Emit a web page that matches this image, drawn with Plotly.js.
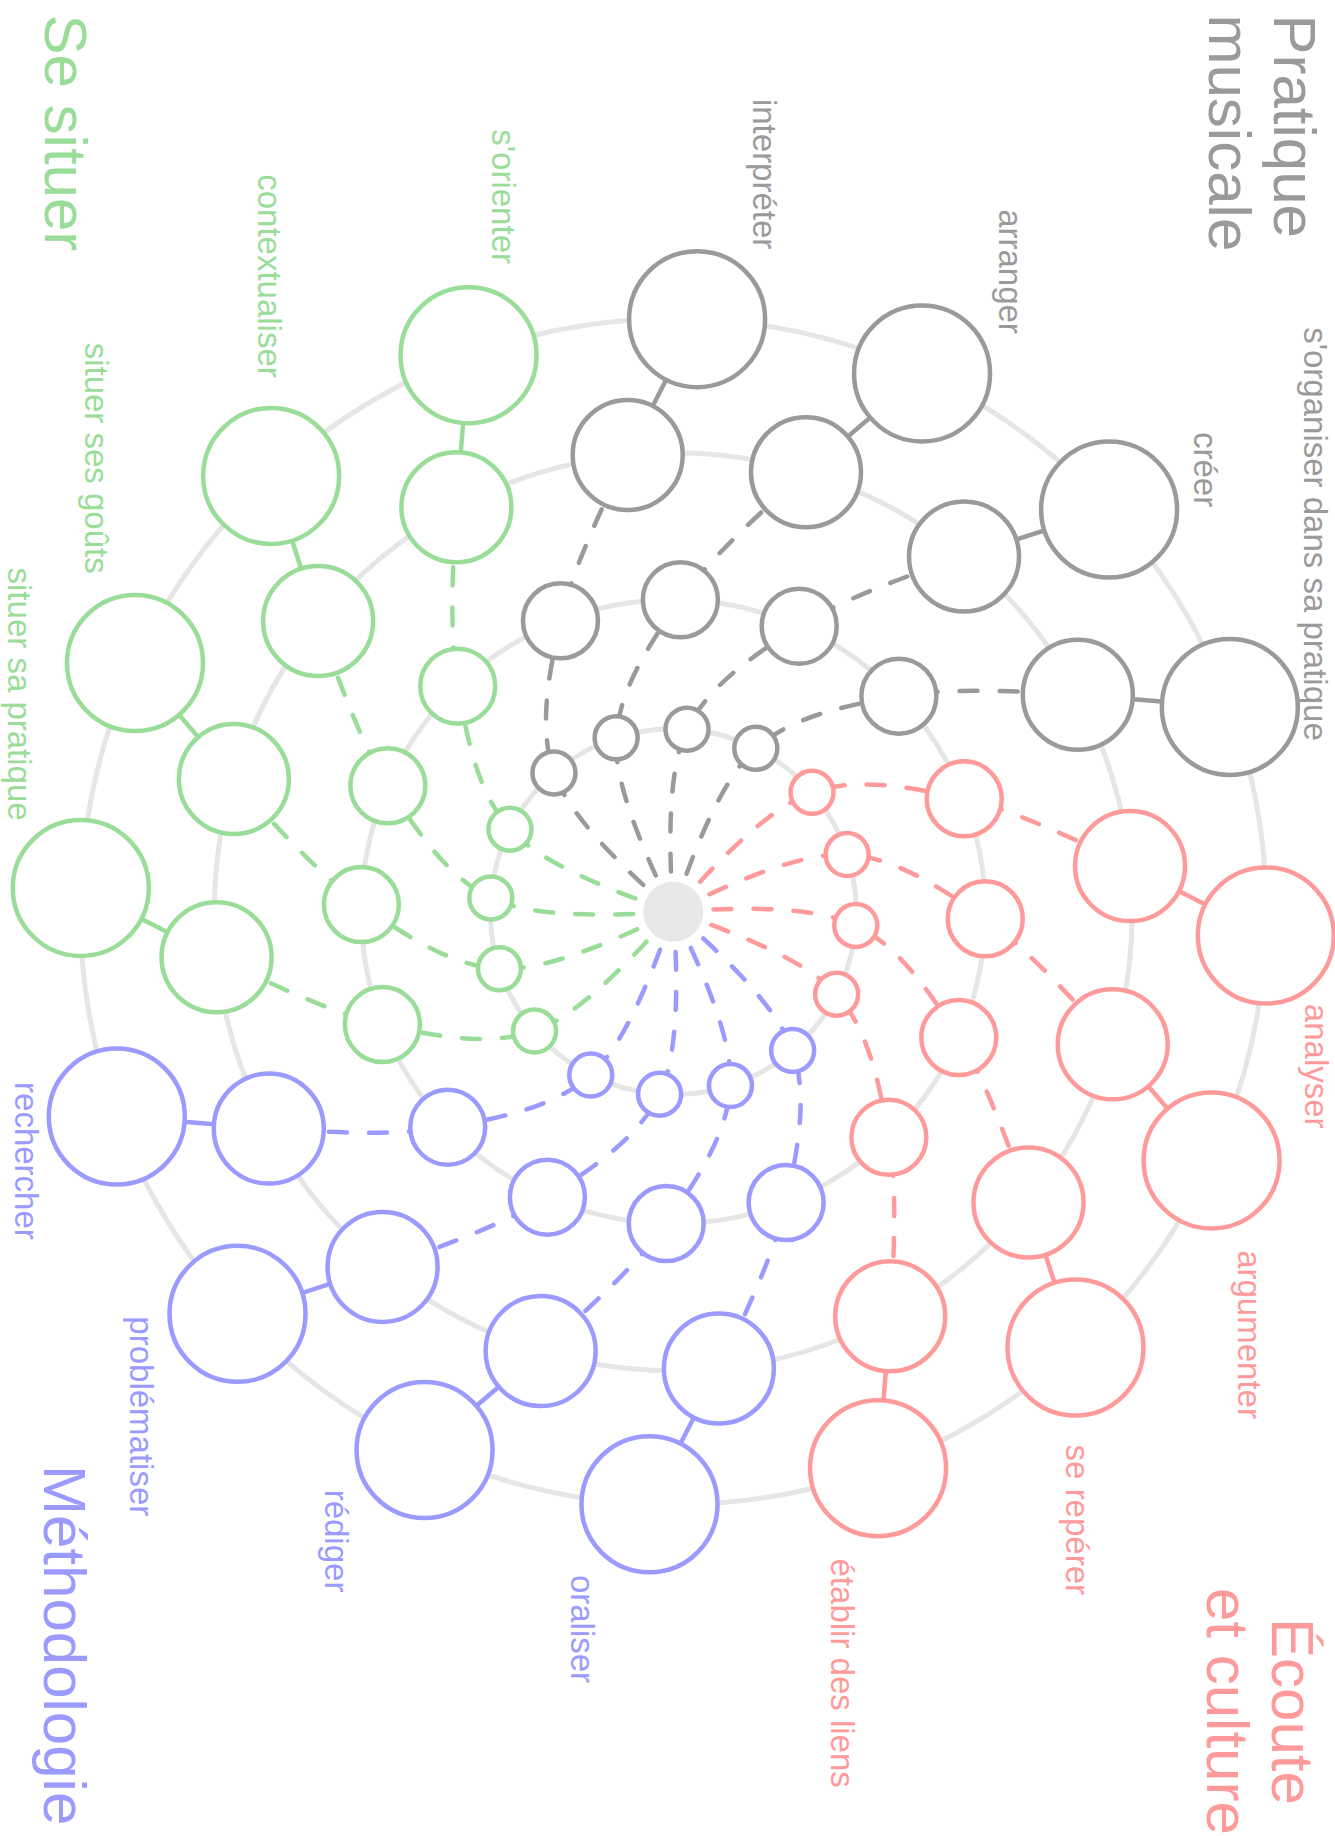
<!DOCTYPE html>
<html>
<head>
<meta charset="utf-8">
<script src="https://cdn.plot.ly/plotly-3.0.1.min.js"></script>
<style>html,body{margin:0;padding:0;background:#fff;}</style>
</head>
<body>
<div id="chart" style="width:1335px;height:1836px;"></div>
<script>
// ---------------- data ----------------
const groupNames = ["Écoute et culture", "Pratique musicale", "Se situer", "Méthodologie"];
const ecouteBranches = ["établir des liens", "se repérer", "argumenter", "analyser"];
const pratiqueBranches = ["s'organiser dans sa pratique", "créer", "arranger", "interpréter"];
const situerBranches = ["s'orienter", "contextualiser", "situer ses goûts", "situer sa pratique"];
const methodoBranches = ["rechercher", "problématiser", "rédiger", "oraliser"];
const levels = [1, 2, 3, 4];

// ---------------- layout & style ----------------
const W = 1335, H = 1836;
const CX = 673.3, CY = 911.7;                 // centre of the spiral (px)
const ringRadius = {1: 183, 2: 312, 3: 459, 4: 593};
const levelTwist = {1: 0, 2: -19.5, 3: -35, 4: -43};
const levelSize = {1: 43, 2: 75, 3: 110, 4: 136};
const firstAngle = -26.8, angleStep = 22.5;
const labelRadius = 668, labelShift = -5.5, labelEdgePad = 19;
const groupColors = ["#ff9a9a", "#9a9a9a", "#99dd99", "#9a9aff"];
const ringColor = "#e6e6e6", hubColor = "#e8e8e8";
const FONT = "Liberation Sans, Arial, Helvetica, sans-serif";
const branchSets = [ecouteBranches, pratiqueBranches, situerBranches, methodoBranches];

function pos(angleDeg, r) {
  const a = angleDeg * Math.PI / 180;
  return [r * Math.cos(a), r * Math.sin(a)];
}

const traces = [];
const markerTraces = [];
const annotations = [];
let k = 0;
branchSets.forEach((branches, g) => {
  const color = groupColors[g];
  const mx = [], my = [], ms = [];
  branches.forEach((label) => {
    const base = firstAngle + angleStep * k;
    const pts = levels.map(l => pos(base + levelTwist[l], ringRadius[l]));
    // dashed spiral: hub -> level 1 -> level 2 -> level 3
    traces.push({
      type: "scatter", mode: "lines", hoverinfo: "skip",
      x: [0, pts[0][0], pts[1][0], pts[2][0]],
      y: [0, pts[0][1], pts[1][1], pts[2][1]],
      line: {color: color, width: 4.5, dash: "18px,22px", shape: "spline", smoothing: 1}
    });
    // solid link level 3 -> level 4
    traces.push({
      type: "scatter", mode: "lines", hoverinfo: "skip",
      x: [pts[2][0], pts[3][0]], y: [pts[2][1], pts[3][1]],
      line: {color: color, width: 4.5}
    });
    levels.forEach((l, i) => { mx.push(pts[i][0]); my.push(pts[i][1]); ms.push(levelSize[l]); });
    // branch label, kept inside the page
    const lp = pos(base + levelTwist[4] + labelShift, labelRadius);
    const lx = Math.max(-CX + labelEdgePad, Math.min(W - CX - labelEdgePad, lp[0]));
    annotations.push({
      x: lx, y: lp[1], xref: "x", yref: "y", text: label, showarrow: false,
      textangle: 90, xanchor: "center", yanchor: lp[1] < 0 ? "top" : "bottom",
      borderpad: 0, font: {family: FONT, size: 33, color: color}
    });
    k++;
  });
  markerTraces.push({
    type: "scatter", mode: "markers", hoverinfo: "skip", x: mx, y: my,
    marker: {size: ms, opacity: 1, color: "#ffffff", line: {color: color, width: 4.5}}
  });
});

// hub
markerTraces.push({
  type: "scatter", mode: "markers", hoverinfo: "skip", x: [0], y: [0],
  marker: {size: 60, opacity: 1, color: hubColor, line: {width: 0}}
});

// rings
const shapes = levels.map(l => ({
  type: "circle", xref: "x", yref: "y", layer: "below",
  x0: -ringRadius[l], x1: ringRadius[l], y0: -ringRadius[l], y1: ringRadius[l],
  line: {color: ringColor, width: 5}
}));

// group titles (px positions converted to paper)
function title(text, g, xc, yp, yanchor) {
  annotations.push({
    xref: "paper", yref: "paper", x: xc / W, y: 1 - yp / H, text: text, showarrow: false,
    textangle: 90, xanchor: "center", yanchor: yanchor, borderpad: 0,
    font: {family: FONT, size: 60, color: groupColors[g]}
  });
}
function splitFirst(s) { const i = s.indexOf(" "); return [s.slice(0, i), s.slice(i + 1)]; }
const ec = splitFirst(groupNames[0]);
const pm = splitFirst(groupNames[1]);
title(pm[0], 1, 1294, 13, "top");
title(pm[1], 1, 1229, 13, "top");
title(groupNames[2], 2, 65, 13, "top");
title(groupNames[3], 3, 65, 1826, "bottom");
title(ec[0], 0, 1293, 1711, "middle");
title(ec[1], 0, 1228, 1711, "middle");

const layout = {
  width: W, height: H, margin: {l: 0, r: 0, t: 0, b: 0},
  paper_bgcolor: "#ffffff", plot_bgcolor: "#ffffff", showlegend: false,
  xaxis: {range: [-CX, W - CX], visible: false, fixedrange: true},
  yaxis: {range: [-(H - CY), CY], visible: false, fixedrange: true},
  shapes: shapes, annotations: annotations, hovermode: false
};

Plotly.newPlot("chart", traces.concat(markerTraces), layout, {displayModeBar: false, staticPlot: true})
  .then(() => {
    document.querySelectorAll(".scatterlayer path.js-line").forEach(p => {
      p.style.strokeLinecap = "round";
    });
  });
</script>
</body>
</html>
